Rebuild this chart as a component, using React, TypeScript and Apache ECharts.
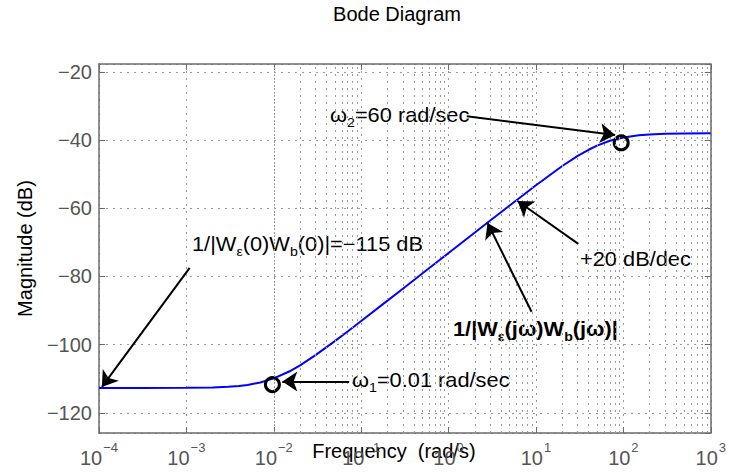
import React, { useEffect, useRef } from 'react';
import * as echarts from 'echarts';

const FONT = '"Liberation Sans", Arial, Helvetica, sans-serif';

// ---- data ----
const freq = [1e-4, 3e-4, 1e-3, 2e-3, 3e-3, 4e-3, 5e-3, 7e-3, 1e-2, 1.5e-2, 2e-2, 3e-2, 5e-2, 7e-2, 0.1, 0.2, 0.3, 0.5, 1, 2, 3, 5, 10, 20, 30, 40, 50, 70, 100, 150, 200, 300, 500, 1000];
const magDb = [-112.7, -112.7, -112.66, -112.55, -112.36, -112.1, -111.81, -111.1, -109.89, -107.87, -106.05, -103.08, -98.96, -96.12, -93.08, -87.09, -83.58, -79.14, -73.13, -67.11, -63.59, -59.18, -53.26, -47.61, -44.64, -42.85, -41.62, -40.22, -39.23, -38.62, -38.35, -38.16, -38.06, -38.02];

const markerFreq = [0.00964, 94.4];
const markerDb = [-111.7, -40.8];

// arrows: tail and tip points [freq, dB]
const arrowTail = [[1.09e-3, -77.5], [0.0728, -110.8], [1.613, -33.0], [30.5, -70.45], [8.9, -90.35]];
const arrowTip = [[1.08e-4, -112.4], [0.01253, -110.8], [80.5, -38.55], [6.15, -57.87], [2.79, -64.3]];

const yMin = -125.9;
const yMax = -17.7;
const yTickStep = 20;
const xMin = 1e-4;
const xMax = 1e3;
const decades = [-4, -3, -2, -1, 0, 1, 2];
const minorFactors = [2, 3, 4, 5, 6, 7, 8, 9];

const minorGrid: number[] = [];
decades.forEach((d) => minorFactors.forEach((m) => minorGrid.push(m * Math.pow(10, d))));

const AX = '#6b6b6b';
const GRID = '#9a9a9a';
const TICKCOL = '#555555';

const minus = (s: string) => s.replace('-', '\u2212');

const t = { fontSize: 20, fontFamily: FONT, color: '#000' };
const s = { fontSize: 13, fontFamily: FONT, color: '#000', padding: [15, 0, 0, 0] };
const tb = { ...t, fontWeight: 'bold' };
const sb = { ...s, fontWeight: 'bold' };

function annot(x: number, y: number, text: string, bold = false) {
  return {
    type: 'text',
    x,
    y,
    scaleX: 1.09,
    silent: true,
    style: {
      text,
      align: 'left',
      verticalAlign: 'middle',
      rich: bold ? { t: tb, s: sb } : { t, s },
    },
  };
}

export default function App() {
  const ref = useRef<HTMLDivElement>(null);
  useEffect(() => {
    const chart = echarts.init(ref.current!, null, { renderer: 'svg' });
    const option: any = {
      animation: false,
      backgroundColor: '#fff',
      title: {
        text: 'Bode Diagram',
        left: 397,
        top: 4,
        padding: 0,
        textAlign: 'center',
        textStyle: { fontFamily: FONT, fontSize: 20, fontWeight: 'normal', color: '#000' },
      },
      grid: { left: 99, right: 16, top: 64, bottom: 41 },
      xAxis: [
        {
          type: 'log',
          logBase: 10,
          min: xMin,
          max: xMax,
          splitNumber: 7,
          position: 'bottom',
          name: 'Frequency  (rad/s)',
          nameLocation: 'middle',
          nameGap: 8,
          nameMoveOverlap: false,
          nameTextStyle: { fontFamily: FONT, fontSize: 20, color: '#000', padding: [0, 22, 0, 0] },
          axisLine: { lineStyle: { color: AX, width: 1.5 } },
          axisTick: { inside: true, length: 6, lineStyle: { color: AX } },
          splitLine: { show: true, lineStyle: { type: [2, 5], color: GRID, width: 1 } },
          axisLabel: {
            margin: 8,
            color: TICKCOL,
            formatter: (v: number) => `{b|10}{p|${minus(String(Math.round(Math.log10(v))))}}`,
            rich: {
              b: { fontSize: 20, fontFamily: FONT, color: TICKCOL },
              p: { fontSize: 13, fontFamily: FONT, color: TICKCOL, padding: [0, 0, 21, 1] },
            },
          },
        },
        {
          type: 'log',
          logBase: 10,
          min: xMin,
          max: xMax,
          splitNumber: 7,
          position: 'top',
          axisLine: { lineStyle: { color: AX, width: 1.5 } },
          axisTick: { inside: true, length: 6, lineStyle: { color: AX } },
          axisLabel: { show: false },
          splitLine: { show: false },
        },
      ],
      yAxis: [
        {
          type: 'value',
          min: yMin,
          max: yMax,
          minInterval: yTickStep,
          maxInterval: yTickStep,
          position: 'left',
          name: 'Magnitude (dB)',
          nameLocation: 'middle',
          nameGap: 64,
          nameMoveOverlap: false,
          nameTextStyle: { fontFamily: FONT, fontSize: 20, color: '#000' },
          axisLine: { lineStyle: { color: AX, width: 1.5 } },
          axisTick: { inside: true, length: 6, lineStyle: { color: AX } },
          splitLine: { show: true, lineStyle: { type: [2, 5], color: GRID, width: 1 } },
          axisLabel: {
            margin: 7,
            fontSize: 20,
            fontFamily: FONT,
            color: TICKCOL,
            showMinLabel: false,
            showMaxLabel: false,
            formatter: (v: number) => (Math.abs(v % yTickStep) < 1e-6 ? minus(String(v)) : ''),
          },
        },
        {
          type: 'value',
          min: yMin,
          max: yMax,
          minInterval: yTickStep,
          maxInterval: yTickStep,
          position: 'right',
          axisLine: { lineStyle: { color: AX, width: 1.5 } },
          axisTick: { inside: true, length: 6, lineStyle: { color: AX } },
          axisLabel: { show: false },
          splitLine: { show: false },
        },
      ],
      series: [
        {
          type: 'line',
          name: 'minor grid',
          data: [],
          z: 1,
          silent: true,
          markLine: {
            silent: true,
            symbol: ['none', 'none'],
            label: { show: false },
            lineStyle: { type: [2, 5], color: GRID, width: 1 },
            emphasis: { disabled: true },
            data: minorGrid.map((v) => ({ xAxis: v })),
          },
        },
        {
          type: 'line',
          name: '1/|We(jw)Wb(jw)|',
          data: freq.map((f, i) => [f, magDb[i]]),
          showSymbol: false,
          smooth: false,
          lineStyle: { color: '#0000ff', width: 2 },
          z: 3,
          silent: true,
        },
        {
          type: 'scatter',
          name: 'corners',
          data: markerFreq.map((f, i) => [f, markerDb[i]]),
          symbol: 'circle',
          symbolSize: 14,
          itemStyle: { color: 'rgba(0,0,0,0)', borderColor: '#000', borderWidth: 3, opacity: 1 },
          z: 4,
          silent: true,
          markLine: {
            silent: true,
            symbol: ['none', 'arrow'],
            symbolSize: 15,
            label: { show: false },
            lineStyle: { type: 'solid', color: '#000', width: 2 },
            itemStyle: { color: '#000' },
            emphasis: { disabled: true },
            data: arrowTail.map((a, i) => [{ coord: a }, { coord: arrowTip[i] }]),
          },
        },
      ],
      graphic: [
        annot(192, 244, '{t|1/|W}{s|ε}{t|(0)W}{s|b}{t|(0)|=\u2212115 dB}'),
        annot(352, 380, '{t|ω}{s|1}{t|=0.01 rad/sec}'),
        annot(330, 115, '{t|ω}{s|2}{t|=60 rad/sec}'),
        annot(580, 259, '{t|+20 dB/dec}'),
        annot(453, 329, '{t|1/|W}{s|ε}{t|(jω)W}{s|b}{t|(jω)|}', true),
      ],
    };
    chart.setOption(option);
    return () => chart.dispose();
  }, []);
  return <div ref={ref} style={{ position: 'absolute', left: 0, top: 0, width: 729, height: 474 }} />;
}
